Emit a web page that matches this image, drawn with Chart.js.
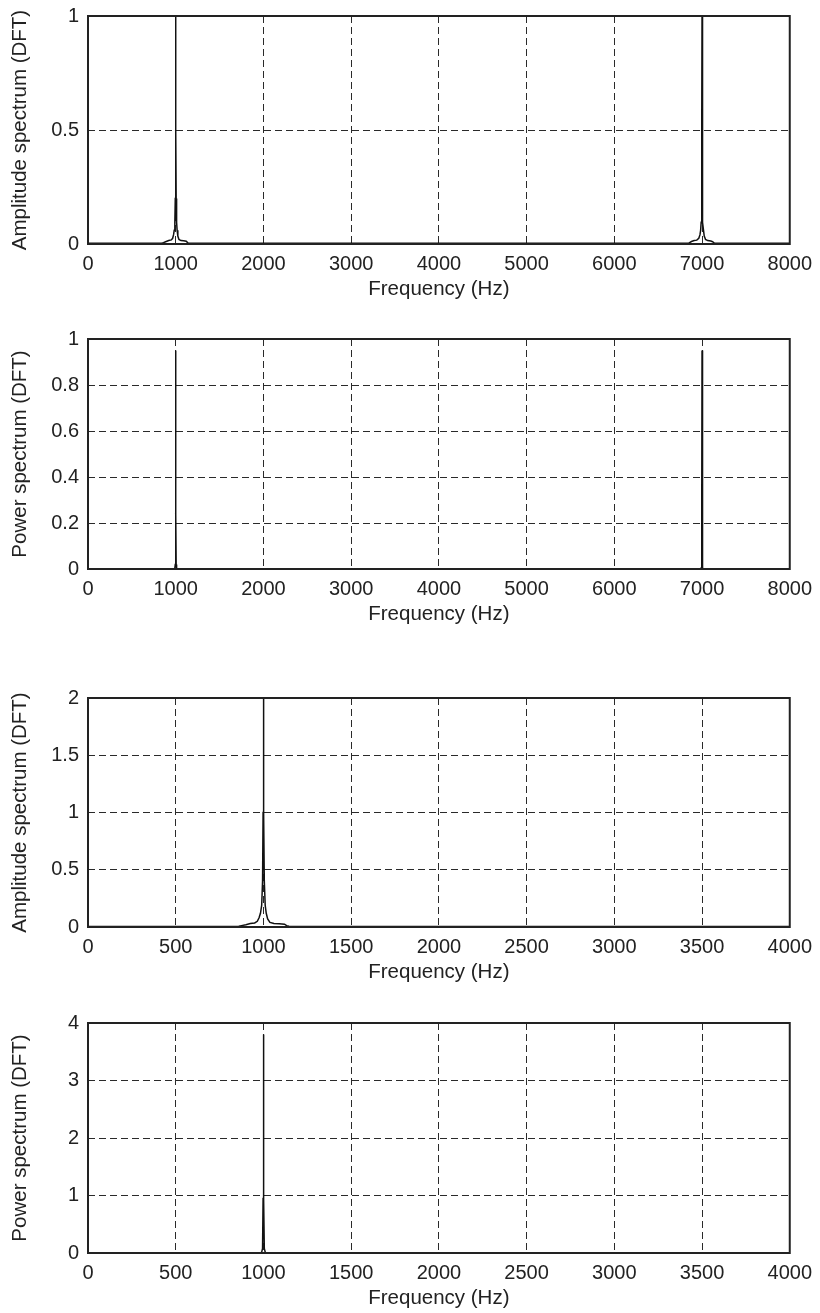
<!DOCTYPE html>
<html lang="en">
<head>
  <meta charset="UTF-8" />
  <title>DFT spectra</title>
  <script src="https://cdn.jsdelivr.net/npm/chart.js"></script>
  <style>
    body {
      margin: 0;
      background: #fff;
    }
    #wrap {
      position: relative;
      width: 820px;
      height: 1313px;
    }
    #wrap canvas {
      position: absolute;
      left: 0;
    }
  </style>
</head>
<body>
  <div id="wrap"></div>

  <script>
    // --- data ---
    // two-sided DFT, 0..8000 Hz (peaks at 1000 and 7000 Hz)
    const freqFull = [0, 840, 860, 885, 920, 950, 965, 975, 983, 990, 995, 998, 1000, 1002, 1005, 1010, 1016, 1024, 1037, 1060, 1090, 1120, 1135, 1150,
                      6845, 6858, 6880, 6910, 6940, 6963, 6976, 6984, 6990, 6995, 6998, 7000, 7002, 7005, 7010, 7017, 7025, 7040, 7065, 7100, 7120, 7140, 8000];
    const ampFull  = [0.003, 0.003, 0.006, 0.010, 0.015, 0.018, 0.025, 0.040, 0.060, 0.095, 0.20, 0.50, 1.0, 0.50, 0.20, 0.095, 0.060, 0.035, 0.020, 0.015, 0.014, 0.012, 0.006, 0.003,
                      0.003, 0.006, 0.011, 0.015, 0.017, 0.025, 0.040, 0.060, 0.095, 0.20, 0.50, 1.0, 0.50, 0.20, 0.095, 0.060, 0.035, 0.020, 0.015, 0.013, 0.010, 0.004, 0.003];
    const freqPowFull = [0, 985, 990, 995, 998, 1000, 1002, 1005, 1010, 1015, 6985, 6990, 6995, 6998, 7000, 7002, 7005, 7010, 7015, 8000];
    const powFull     = [0, 0.001, 0.004, 0.02, 0.24, 0.95, 0.24, 0.02, 0.004, 0.001, 0.001, 0.004, 0.02, 0.24, 0.95, 0.24, 0.02, 0.004, 0.001, 0];

    // one-sided DFT, 0..4000 Hz (peak at 1000 Hz)
    const freqHalf = [0, 860, 875, 900, 925, 950, 965, 975, 983, 990, 995, 998, 1000, 1002, 1005, 1010, 1016, 1024, 1037, 1060, 1090, 1120, 1132, 1145, 4000];
    const ampHalf  = [0.005, 0.006, 0.012, 0.020, 0.030, 0.035, 0.050, 0.080, 0.12, 0.19, 0.40, 1.0, 2.0, 1.0, 0.40, 0.19, 0.12, 0.07, 0.040, 0.030, 0.028, 0.025, 0.012, 0.006, 0.005];
    const freqPowHalf = [0, 985, 990, 995, 998, 1000, 1002, 1005, 1010, 1015, 4000];
    const powHalf     = [0, 0.004, 0.015, 0.08, 0.95, 3.8, 0.95, 0.08, 0.015, 0.004, 0];

    // tick labels
    const xTicksFull = [0, 1000, 2000, 3000, 4000, 5000, 6000, 7000, 8000];
    const xTicksHalf = [0, 500, 1000, 1500, 2000, 2500, 3000, 3500, 4000];
    const yTicksAmpFull = [0, 0.5, 1];
    const yTicksPowFull = [0, 0.2, 0.4, 0.6, 0.8, 1];
    const yTicksAmpHalf = [0, 0.5, 1, 1.5, 2];
    const yTicksPowHalf = [0, 1, 2, 3, 4];

    const xTitle = 'Frequency (Hz)';
    const yTitleAmp = 'Amplitude spectrum (DFT)';
    const yTitlePow = 'Power spectrum (DFT)';

    // --- layout ---
    const FONT = '"Liberation Sans", Arial, Helvetica, sans-serif';
    const TEXT = '#222';
    const PAD_TOP = 15;
    const TOP_EXTRA = 5;   // chart.js adds room for the top tick label
    const X_AXIS_H = 62;
    const Y_AXIS_W = 88;
    const PAD_RIGHT = 28;

    // draws the closed box round the plot area
    const boxPlugin = {
      id: 'box',
      afterDraw(chart) {
        const { left, top, right, bottom } = chart.chartArea;
        const ctx = chart.ctx;
        ctx.save();
        ctx.strokeStyle = '#222';
        ctx.lineWidth = 2;
        ctx.strokeRect(left, top, right - left, bottom - top);
        ctx.restore();
      }
    };

    function makePlot(plotTop, plotBottom, xs, ys, xTicks, yTicks, yTitle) {
      const canvas = document.createElement('canvas');
      const h = Math.round(plotBottom - plotTop + PAD_TOP + TOP_EXTRA + X_AXIS_H);
      canvas.width = 820;
      canvas.height = h;
      canvas.style.top = Math.round(plotTop - PAD_TOP - TOP_EXTRA) + 'px';
      canvas.style.width = '820px';
      canvas.style.height = h + 'px';
      document.getElementById('wrap').appendChild(canvas);

      const points = xs.map((x, i) => ({ x: x, y: ys[i] }));

      new Chart(canvas.getContext('2d'), {
        type: 'scatter',
        data: {
          datasets: [{
            data: points,
            showLine: true,
            borderColor: '#111',
            borderWidth: 1.5,
            pointRadius: 0,
            tension: 0
          }]
        },
        options: {
          responsive: false,
          animation: false,
          devicePixelRatio: 1,
          layout: { padding: { top: PAD_TOP, right: PAD_RIGHT, left: 0, bottom: 0 } },
          plugins: { legend: { display: false }, tooltip: { enabled: false } },
          scales: {
            x: {
              type: 'linear',
              min: xTicks[0],
              max: xTicks[xTicks.length - 1],
              afterBuildTicks: s => { s.ticks = xTicks.map(v => ({ value: v })); },
              afterFit: s => { s.height = X_AXIS_H; },
              grid: { color: '#2a2a2a', lineWidth: 1, drawTicks: false },
              border: { display: false, dash: [7, 4] },
              ticks: {
                color: TEXT,
                padding: 8,
                maxRotation: 0,
                autoSkip: false,
                font: { family: FONT, size: 20 },
                callback: v => String(v)
              },
              title: {
                display: true,
                text: xTitle,
                color: TEXT,
                padding: { top: 0, bottom: 4 },
                font: { family: FONT, size: 20.5 }
              }
            },
            y: {
              type: 'linear',
              min: yTicks[0],
              max: yTicks[yTicks.length - 1],
              afterBuildTicks: s => { s.ticks = yTicks.map(v => ({ value: v })); },
              afterFit: s => { s.width = Y_AXIS_W; },
              grid: { color: '#2a2a2a', lineWidth: 1, drawTicks: false },
              border: { display: false, dash: [7, 4] },
              ticks: {
                color: TEXT,
                padding: 9,
                autoSkip: false,
                font: { family: FONT, size: 20 },
                callback: v => String(v)
              },
              title: {
                display: true,
                text: yTitle,
                color: TEXT,
                padding: { top: 8, bottom: 0 },
                font: { family: FONT, size: 20.5 }
              }
            }
          }
        },
        plugins: [boxPlugin]
      });
    }

    makePlot(15, 243.5, freqFull, ampFull, xTicksFull, yTicksAmpFull, yTitleAmp);
    makePlot(338, 569, freqPowFull, powFull, xTicksFull, yTicksPowFull, yTitlePow);
    makePlot(697, 927, freqHalf, ampHalf, xTicksHalf, yTicksAmpHalf, yTitleAmp);
    makePlot(1022, 1253, freqPowHalf, powHalf, xTicksHalf, yTicksPowHalf, yTitlePow);
  </script>
</body>
</html>
